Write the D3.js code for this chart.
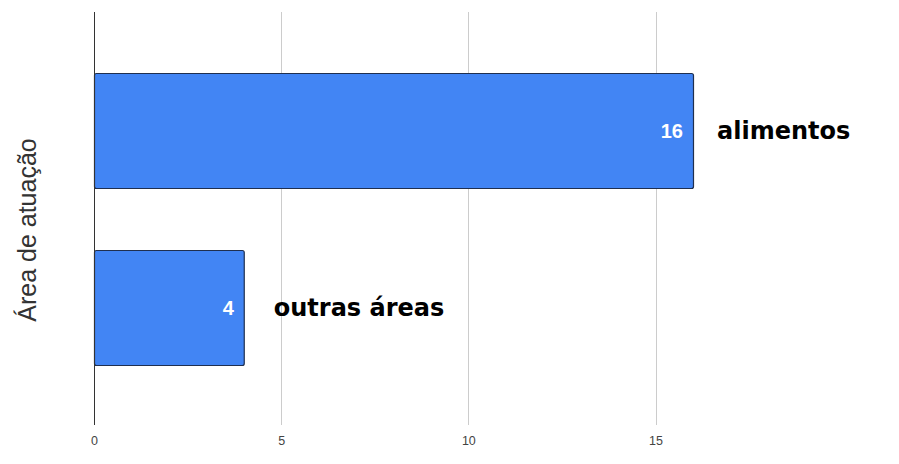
<!DOCTYPE html>
<html>
<head>
<meta charset="utf-8">
<script src="https://cdn.jsdelivr.net/npm/d3@7/dist/d3.min.js"></script>
<style>
  html, body { margin: 0; padding: 0; background: #fff; }
  svg { display: block; }
</style>
</head>
<body>
<svg id="chart" width="899" height="464"></svg>
<script>
// ---- data ----
const categories = ["alimentos", "outras áreas"];
const values = [16, 4];
const xTicks = [0, 5, 10, 15];
const yTitle = "Área de atuação";

// ---- layout ----
const W = 899, H = 464;
const plotTop = 12, plotBottom = 425;
const labelGap = [24, 30];

const svg = d3.select("#chart");

const x = d3.scaleLinear().domain([0, 16]).range([94, 693]);
const y = d3.scaleBand().domain(categories).range([42, 396]).paddingInner(0.35).paddingOuter(0.175);

// gridlines
svg.append("g")
  .selectAll("line")
  .data(xTicks.filter(d => d !== 0))
  .join("line")
  .attr("x1", d => Math.round(x(d)) + 0.5)
  .attr("x2", d => Math.round(x(d)) + 0.5)
  .attr("y1", plotTop)
  .attr("y2", plotBottom)
  .attr("stroke", "#cccccc")
  .attr("stroke-width", 1);

// x axis tick labels
const xAxis = d3.axisBottom(x).tickValues(xTicks).tickSize(0).tickPadding(0).tickFormat(d3.format("d"));
const gx = svg.append("g").attr("transform", `translate(0, ${plotBottom})`).call(xAxis);
gx.select(".domain").remove();
gx.selectAll("text")
  .attr("y", 20)
  .attr("dy", null)
  .attr("font-family", "'Liberation Sans', Arial, sans-serif")
  .attr("font-size", 12.5)
  .attr("fill", "#444");

// bars
svg.append("g")
  .selectAll("rect")
  .data(categories)
  .join("rect")
  .attr("x", x(0) + 0.5)
  .attr("y", d => Math.round(y(d)) + 0.5)
  .attr("width", (d, i) => x(values[i]) - x(0))
  .attr("height", Math.round(y.bandwidth()))
  .attr("rx", 2)
  .attr("fill", "#4285f4")
  .attr("stroke", "#1f2f4f")
  .attr("stroke-width", 1.2);

// zero axis line
svg.append("line")
  .attr("x1", Math.round(x(0)) + 0.5)
  .attr("x2", Math.round(x(0)) + 0.5)
  .attr("y1", plotTop)
  .attr("y2", plotBottom)
  .attr("stroke", "#333")
  .attr("stroke-width", 1);

// value labels inside bars
svg.append("g")
  .selectAll("text")
  .data(categories)
  .join("text")
  .attr("x", (d, i) => x(values[i]) - 10)
  .attr("y", d => y(d) + y.bandwidth() / 2 + 7)
  .attr("text-anchor", "end")
  .attr("font-family", "'Liberation Sans', Arial, sans-serif")
  .attr("font-weight", "bold")
  .attr("font-size", 20)
  .attr("fill", "#fff")
  .text((d, i) => values[i]);

// category labels outside bars
svg.append("g")
  .selectAll("text")
  .data(categories)
  .join("text")
  .attr("x", (d, i) => x(values[i]) + labelGap[i])
  .attr("y", d => y(d) + y.bandwidth() / 2 + 8)
  .attr("text-anchor", "start")
  .attr("font-family", "'DejaVu Sans', sans-serif")
  .attr("font-weight", "bold")
  .attr("font-size", 24)
  .attr("fill", "#000")
  .text(d => d);

// y axis title
svg.append("text")
  .attr("transform", `translate(36, 230) rotate(-90)`)
  .attr("text-anchor", "middle")
  .attr("font-family", "'Liberation Sans', Arial, sans-serif")
  .attr("font-size", 25)
  .attr("fill", "#333")
  .text(yTitle);
</script>
</body>
</html>
